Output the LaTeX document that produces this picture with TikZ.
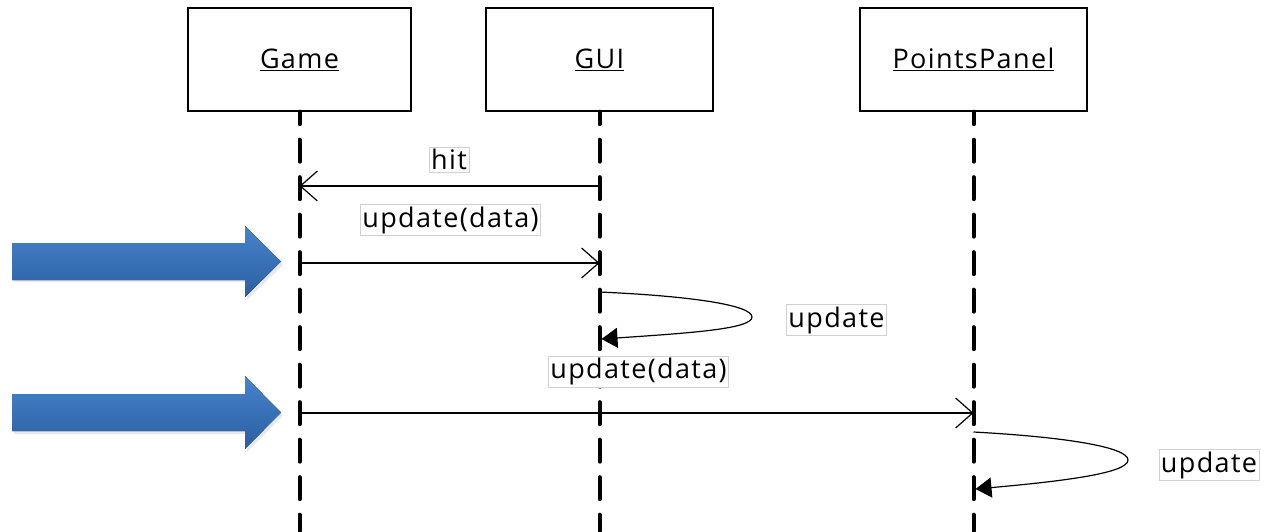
\documentclass[tikz,border=0pt]{standalone}
\usepackage{fontspec}
\setmainfont{Open Sans}
\newfontfamily\lblfont[LetterSpace=5]{Open Sans}
\usetikzlibrary{arrows.meta}
\definecolor{arrtop}{RGB}{70,132,204}
\definecolor{arrbot}{RGB}{44,94,160}
\begin{document}
\begin{tikzpicture}[x=1pt,y={(0pt,-1pt)},
  obj/.style={draw,line width=1.3pt,minimum height=103pt,inner sep=0pt,font=\lblfont\fontsize{27}{31}\selectfont},
  life/.style={line width=4pt,line cap=round,dash pattern=on 22pt off 15.5pt,dash phase=9.5pt},
  msg/.style={line width=1.2pt,-{Straight Barb[length=17pt,width=30pt,line width=1.2pt]}},
  selfmsg/.style={line width=1.2pt,-{Triangle[length=16pt,width=20pt]}},
  lbl/.style={draw=black!18,fill=white,line width=0.6pt,inner sep=2pt,font=\lblfont\fontsize{27}{31}\selectfont},
  bigarrow/.style={top color=arrtop,bottom color=arrbot,draw=none},
  arrshadow/.style={fill=black!25,opacity=0.35,draw=none}
]
\useasboundingbox (0,0) rectangle (1264,531);
\fill[white] (0,0) rectangle (1264,531);

% objects
\node[obj,minimum width=223pt] (game) at (299.5,59.5) {\underline{Game}};
\node[obj,minimum width=227pt] (gui) at (599.5,59.5) {\underline{GUI}};
\node[obj,minimum width=227pt] (pp) at (973.5,59.5) {\underline{PointsPanel}};

% lifeline ends
\coordinate (gameEnd) at (game.south |- 0,531);
\coordinate (guiEnd) at (gui.south |- 0,531);
\coordinate (ppEnd) at (pp.south |- 0,531);
\draw[life] (game.south) -- (gameEnd);
\draw[life] (gui.south) -- (guiEnd);
\draw[life] (pp.south) -- (ppEnd);

% message anchor points
\coordinate (hitA) at (gui.south |- 0,186);
\coordinate (hitB) at (game.south |- 0,186);
\coordinate (up1A) at (game.south |- 0,263);
\coordinate (up1B) at (gui.south |- 0,263);
\coordinate (s1A) at (gui.south |- 0,292);
\coordinate (s1B) at (601.5,339);
\coordinate (up2A) at (game.south |- 0,413);
\coordinate (up2B) at (pp.south |- 0,413);
\coordinate (s2A) at (pp.south |- 0,432);
\coordinate (s2B) at (975.5,489);

\draw[msg] (hitA) -- (hitB);
\draw[msg] (up1A) -- (up1B);
\draw[selfmsg] (s1A) .. controls (690,296) and (752,305) .. (752,317)
  .. controls (752,329) and (690,333) .. (s1B);
\draw[msg] (up2A) -- (up2B);
\draw[selfmsg] (s2A) .. controls (1065,437) and (1128,447) .. (1128,460)
  .. controls (1128,473) and (1065,481) .. (s2B);

% labels
\node[lbl] (lhit) at (449,159.5) {hit};
\node[lbl] (lup1) at (450.5,220) {update(data)};
\node[lbl] (lself1) at (836.5,320) {update};
\node[lbl] (lup2) at (638.5,371.5) {update(data)};
\node[lbl] (lself2) at (1209,465) {update};

% big blue arrows
\fill[arrshadow] (14,246) -- (247,246) -- (247,229) -- (283,265) -- (247,300) -- (247,282) -- (14,282) -- cycle;
\fill[bigarrow] (12,243) -- (245,243) -- (245,226) -- (281,261.5) -- (245,297) -- (245,280) -- (12,280) -- cycle;
\fill[arrshadow] (14,397) -- (247,397) -- (247,379) -- (283,415.5) -- (247,452) -- (247,434) -- (14,434) -- cycle;
\fill[bigarrow] (12,394) -- (245,394) -- (245,376) -- (281,412.5) -- (245,449) -- (245,431) -- (12,431) -- cycle;
\end{tikzpicture}
\end{document}
